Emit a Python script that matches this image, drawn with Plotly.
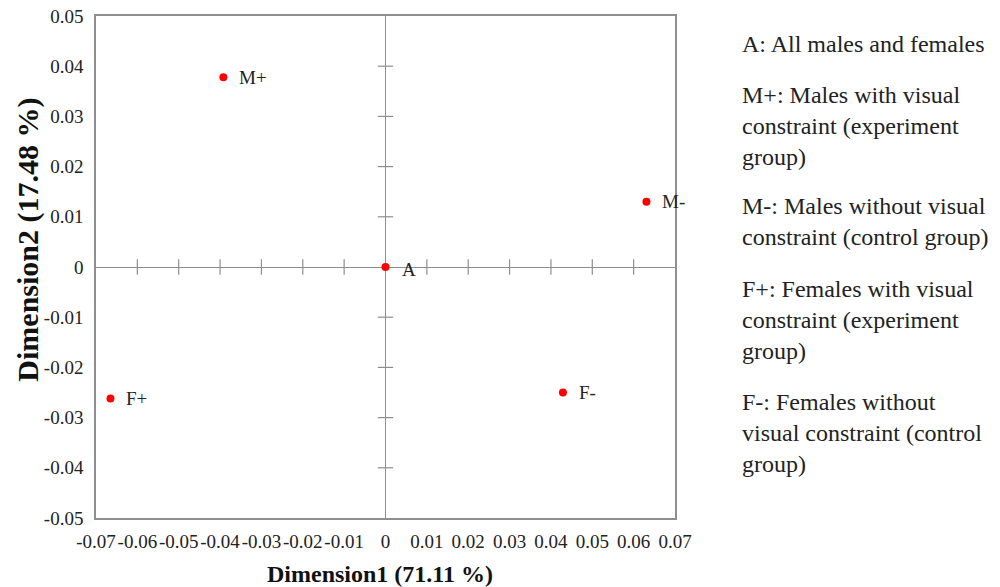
import plotly.graph_objects as go

# ---- data ----
labels = ["A", "M+", "M-", "F+", "F-"]
dim1 = [0.0, -0.0392, 0.0631, -0.0665, 0.0429]
dim2 = [0.0, 0.0378, 0.0130, -0.0262, -0.0250]

x_tickvals = [-0.07, -0.06, -0.05, -0.04, -0.03, -0.02, -0.01, 0, 0.01, 0.02, 0.03, 0.04, 0.05, 0.06, 0.07]
x_ticktext = ["-0.07", "-0.06", "-0.05", "-0.04", "-0.03", "-0.02", "-0.01", "0",
              "0.01", "0.02", "0.03", "0.04", "0.05", "0.06", "0.07"]
y_tickvals = [0.05, 0.04, 0.03, 0.02, 0.01, 0, -0.01, -0.02, -0.03, -0.04, -0.05]
y_ticktext = ["0.05", "0.04", "0.03", "0.02", "0.01", "0", "-0.01", "-0.02", "-0.03", "-0.04", "-0.05"]

# inner tick marks along the zero lines
cross_x_ticks = [-0.06, -0.05, -0.04, -0.03, -0.02, -0.01, 0.01, 0.02, 0.03, 0.04, 0.05, 0.06]
cross_y_ticks = [0.04, 0.03, 0.02, 0.01, -0.01, -0.02, -0.03, -0.04]

x_title = "Dimension1 (71.11 %)"
y_title = "Dimension2 (17.48 %)"

key_text = [
    "A: All males and females",
    "M+: Males with visual<br>constraint (experiment<br>group)",
    "M-: Males without visual<br>constraint (control group)",
    "F+: Females with visual<br>constraint (experiment<br>group)",
    "F-: Females without<br>visual constraint (control<br>group)",
]
key_y = [0.944, 0.781, 0.590, 0.394, 0.169]

FONT = "Liberation Serif, Times New Roman, serif"
GRAY = "#8e8e8e"

fig = go.Figure()

# tick marks on the crossing axes
fig.add_trace(go.Scatter(
    x=cross_x_ticks, y=[0] * len(cross_x_ticks), mode="markers",
    marker=dict(symbol="line-ns", size=11, line=dict(color=GRAY, width=1.2)),
    hoverinfo="skip", showlegend=False))
fig.add_trace(go.Scatter(
    x=[0] * len(cross_y_ticks), y=cross_y_ticks, mode="markers",
    marker=dict(symbol="line-ew", size=11, line=dict(color=GRAY, width=1.2)),
    hoverinfo="skip", showlegend=False))

# the points
fig.add_trace(go.Scatter(
    x=dim1, y=dim2, mode="markers",
    marker=dict(color="#ff0000", size=8),
    showlegend=False, cliponaxis=False))

annotations = []
for lab, xv, yv in zip(labels, dim1, dim2):
    annotations.append(dict(
        x=xv, y=yv, xref="x", yref="y", text=lab, showarrow=False,
        xanchor="left", yanchor="middle", xshift=14, yshift=-2 if lab == "A" else 0,
        font=dict(family=FONT, size=19, color="#222")))

for txt, yy in zip(key_text, key_y):
    annotations.append(dict(
        x=1.112, y=yy, xref="paper", yref="paper", text=txt, showarrow=False,
        xanchor="left", yanchor="middle", align="left",
        font=dict(family=FONT, size=24, color="#222")))

annotations.append(dict(
    x=0.49, y=-0.112, xref="paper", yref="paper", text="<b>" + x_title + "</b>",
    showarrow=False, xanchor="center", yanchor="middle",
    font=dict(family=FONT, size=24, color="#111")))
annotations.append(dict(
    x=-0.117, y=0.555, xref="paper", yref="paper", text="<b>" + y_title + "</b>",
    showarrow=False, xanchor="center", yanchor="middle", textangle=-90,
    font=dict(family=FONT, size=30, color="#111")))

fig.update_layout(
    width=1000, height=587,
    margin=dict(l=96, r=325, t=16, b=69, autoexpand=False),
    paper_bgcolor="white", plot_bgcolor="white",
    showlegend=False,
    annotations=annotations,
    font=dict(family=FONT, color="#222"),
)
fig.update_xaxes(
    range=[-0.07, 0.07], tickvals=x_tickvals, ticktext=x_ticktext, automargin=False,
    tickangle=0, ticklabeloverflow="allow",
    showgrid=False, zeroline=True, zerolinecolor=GRAY, zerolinewidth=1.3,
    showline=True, mirror=True, linecolor=GRAY, linewidth=1.5,
    ticks="", ticklabelstandoff=5, tickfont=dict(family=FONT, size=19, color="#222"))
fig.update_yaxes(
    range=[-0.05, 0.05], tickvals=y_tickvals, ticktext=y_ticktext, automargin=False,
    ticklabeloverflow="allow",
    showgrid=False, zeroline=True, zerolinecolor=GRAY, zerolinewidth=1.3,
    showline=True, mirror=True, linecolor=GRAY, linewidth=1.5,
    ticks="", ticklabelstandoff=7, tickfont=dict(family=FONT, size=19, color="#222"))

# remove the page body's default 8px margin so the figure sits at the window's corner
fig.write_html("out.html",
               config={"displayModeBar": False},
               post_script="document.body.style.margin='0';document.body.style.overflow='hidden';")
